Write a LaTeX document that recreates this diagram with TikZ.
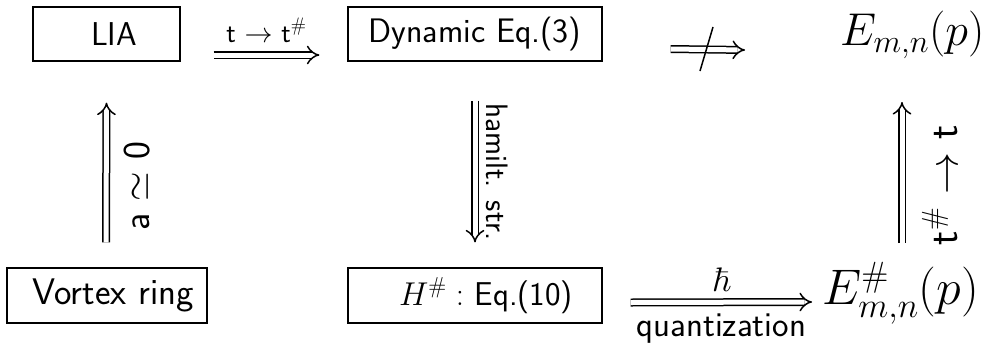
\RequirePackage{fix-cm}
\documentclass[tikz,border=0pt]{standalone}
\usepackage{amsmath,amssymb}
\usetikzlibrary{arrows.meta}
\begin{document}
\begin{tikzpicture}[x=1pt,y=-1pt,
  box/.style={draw, line width=1.2pt, inner sep=0pt, minimum height=54pt},
  dbl/.style={double, double distance=5pt, line width=1.5pt, -{Implies[length=9pt,width=16pt]}},
  lbl/.style={inner sep=0pt, font=\fontsize{30}{36}\selectfont\sffamily}
]
\useasboundingbox (0,0) rectangle (993,362);
% boxes
\node[box, minimum width=147pt, font=\fontsize{33}{40}\selectfont\sffamily] (lia) at (106.5,34) {\hspace*{15pt}LIA};
\node[box, minimum width=254pt, font=\fontsize{34}{40}\selectfont\sffamily] (dyn) at (475,34) {Dynamic Eq.(3)};
\node[box, minimum width=200pt, minimum height=55pt, font=\fontsize{37}{44}\selectfont\sffamily] (vor) at (107,295.5) {\hspace*{12pt}Vortex ring};
\node[box, minimum width=254pt, minimum height=55pt, font=\fontsize{33}{40}\selectfont\sffamily] (ham) at (475,295.5) {\hspace*{22pt}$H^{\#}:$\ Eq.(10)};
% energies
\node[inner sep=0pt, anchor=west, font=\fontsize{46}{54}\selectfont] (emn) at (840,35) {$E_{m,n}(p)$};
\node[inner sep=0pt, anchor=west, font=\fontsize{50}{58}\selectfont] (esh) at (822,293) {$E^{\#}_{m,n}(p)$};
% horizontal arrows
\draw[dbl] ([shift={(33,21)}]lia.east) -- node[lbl, above=12pt, font=\fontsize{28}{34}\selectfont\sffamily] {t $\to$ t$^{\#}$} ([shift={(-28,21)}]dyn.west);
\draw[dbl] ([shift={(68,15)}]dyn.east) -- ([shift={(-95,15)}]emn.west);
\draw[line width=1.5pt] (700,71) -- (713,27);
\draw[dbl] ([shift={(28,7)}]ham.east) -- node[lbl, above=10pt, font=\fontsize{34}{40}\selectfont] {$\hbar$} node[lbl, below=11pt, font=\fontsize{35}{42}\selectfont\sffamily] {quantization} ([shift={(-10,9)}]esh.west);
% vertical arrows
\draw[dbl] ([shift={(-1,-25)}]vor.north) -- ([shift={(0,41)}]lia.south);
\node[lbl, rotate=90, font=\fontsize{38}{44}\selectfont\sffamily] (la) at (137,186) {a $\simeq$ 0};
\draw[dbl] ([shift={(0,39)}]dyn.south) -- ([shift={(0,-25)}]ham.north);
\node[lbl, rotate=-90, font=\fontsize{31}{36}\selectfont\sffamily] (lb) at (497,172) {hamilt. str.};
\draw[dbl] (902,243) -- (902,102);
\node[lbl, rotate=90, font=\fontsize{42}{48}\selectfont\sffamily] (lc) at (940,185) {t$^{\#}$ $\to$ t};
\end{tikzpicture}
\end{document}
